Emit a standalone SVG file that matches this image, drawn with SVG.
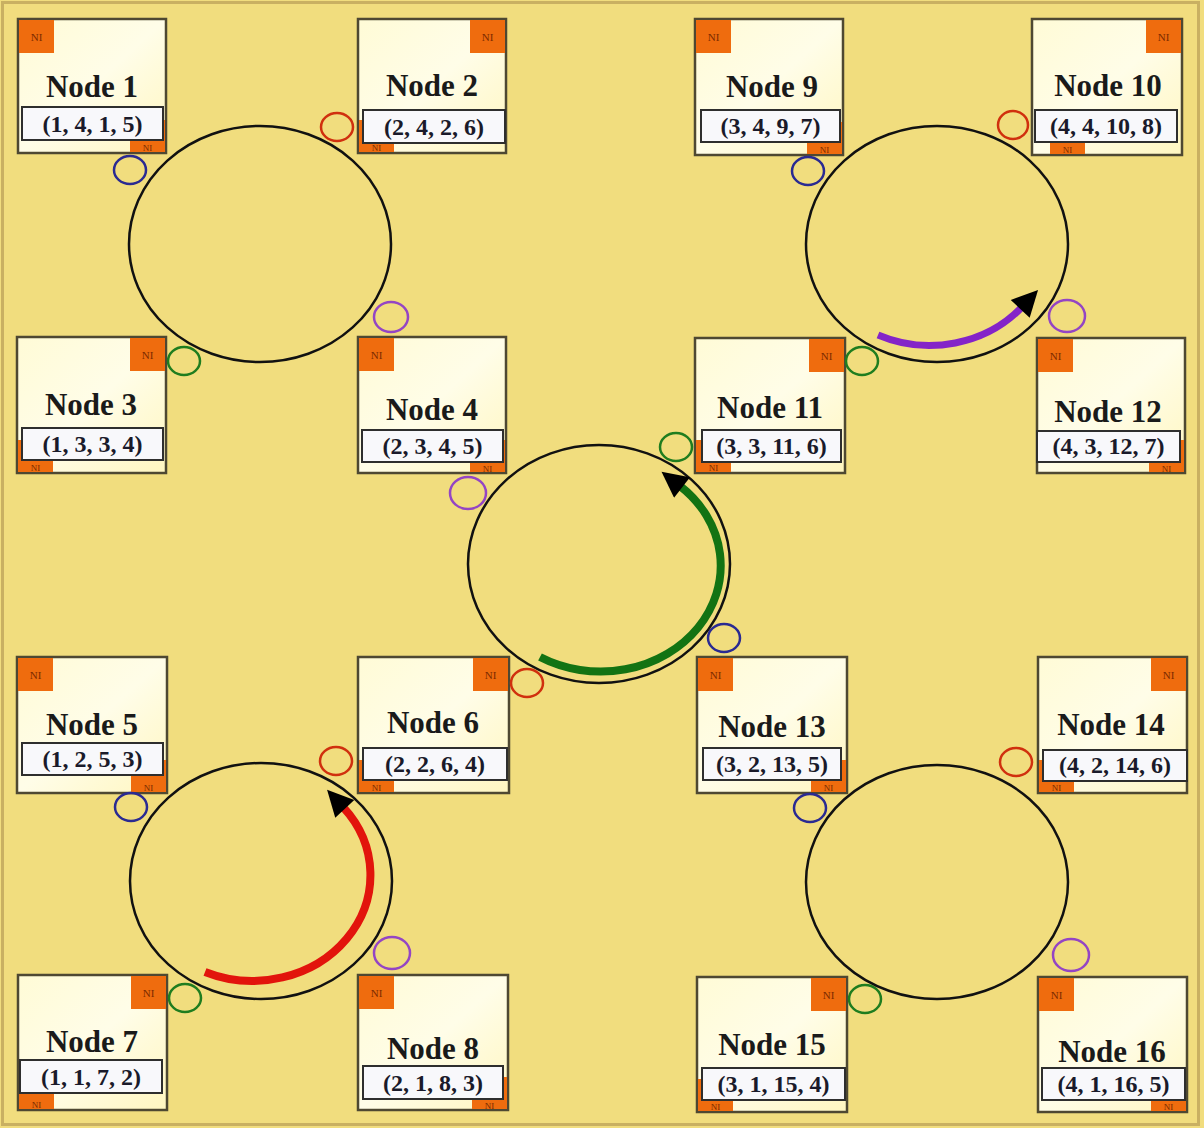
<svg xmlns="http://www.w3.org/2000/svg" width="1204" height="1128" viewBox="0 0 1204 1128">
<defs>
<linearGradient id="nodeFill" x1="0" y1="0" x2="1" y2="1">
<stop offset="0" stop-color="#fffbd6"/>
<stop offset="0.5" stop-color="#fffde8"/>
<stop offset="1" stop-color="#fff6c0"/>
</linearGradient>
<marker id="head" viewBox="0 0 10 10" refX="1" refY="5" markerUnits="userSpaceOnUse" markerWidth="28" markerHeight="26" orient="auto">
<path d="M0,0 L10,5 L0,10 z" fill="#000"/>
</marker>
</defs>
<style>
.box{fill:url(#nodeFill);stroke:#4e4832;stroke-width:2.5}
.ni{fill:#ef6c0e}
.nit{font-family:"Liberation Serif",serif;font-size:11px;fill:#7a2a00;text-anchor:middle}
.nib{font-family:"Liberation Serif",serif;font-size:9px;fill:#7a2a00;text-anchor:middle}
.title{font-family:"Liberation Serif",serif;font-weight:bold;font-size:31px;fill:#1a1a1a;text-anchor:middle}
.lab{fill:#f8f8fb;stroke:#2e2e2e;stroke-width:2}
.labt{font-family:"Liberation Serif",serif;font-weight:bold;font-size:24px;fill:#1a1a2a;text-anchor:middle}
.ring{fill:none;stroke:#111;stroke-width:2.5}
.port{fill:none;stroke-width:2.5}
.pr{stroke:#d0300e}
.pb{stroke:#2a2a92}
.pp{stroke:#9445c4}
.pg{stroke:#1f7d1f}
.arr{fill:none;marker-end:url(#head)}
</style>
<rect x="0" y="0" width="1204" height="1128" fill="#f1dd7e"/>
<rect x="2.5" y="2.5" width="1196" height="1122" fill="none" stroke="#c9b062" stroke-width="3"/>

<g id="connectors">
<ellipse class="ring" cx="260" cy="244" rx="131" ry="118"/>
<ellipse class="ring" cx="937" cy="244" rx="131" ry="118"/>
<ellipse class="ring" cx="599" cy="564" rx="131" ry="119"/>
<ellipse class="ring" cx="261" cy="881" rx="131" ry="118"/>
<ellipse class="ring" cx="937" cy="882" rx="131" ry="117"/>
<path class="arr" d="M878 335 A121 109 0 0 0 1022 307" stroke="#8424c8" stroke-width="7"/>
<path class="arr" d="M540 657 A120 106 0 0 0 680 486" stroke="#137313" stroke-width="8"/>
<path class="arr" d="M205 972 A118 106 0 0 0 343 807" stroke="#e2140c" stroke-width="8"/>
</g>

<g id="node1"><rect class="box" x="18" y="19" width="148" height="134"/><rect class="ni" x="19" y="20" width="35" height="33"/><text class="nit" x="36.5" y="41">NI</text><rect class="ni" x="130" y="120" width="35" height="32"/><text class="nib" x="147.5" y="151">NI</text><text class="title" x="92" y="97">Node 1</text><rect class="lab" x="22" y="107" width="141" height="33"/><text class="labt" x="92.5" y="132">(1, 4, 1, 5)</text></g>
<g id="node2"><rect class="box" x="358" y="19" width="148" height="134"/><rect class="ni" x="470" y="20" width="35" height="33"/><text class="nit" x="487.5" y="41">NI</text><rect class="ni" x="359" y="120" width="35" height="32"/><text class="nib" x="376.5" y="151">NI</text><text class="title" x="432" y="96">Node 2</text><rect class="lab" x="363" y="110" width="142" height="33"/><text class="labt" x="434" y="135">(2, 4, 2, 6)</text></g>
<g id="node3"><rect class="box" x="17" y="337" width="149" height="136"/><rect class="ni" x="130" y="338" width="35" height="33"/><text class="nit" x="147.5" y="359">NI</text><rect class="ni" x="18" y="440" width="35" height="32"/><text class="nib" x="35.5" y="471">NI</text><text class="title" x="91" y="415">Node 3</text><rect class="lab" x="22" y="428" width="141" height="32"/><text class="labt" x="92.5" y="452">(1, 3, 3, 4)</text></g>
<g id="node4"><rect class="box" x="358" y="337" width="148" height="136"/><rect class="ni" x="359" y="338" width="35" height="33"/><text class="nit" x="376.5" y="359">NI</text><rect class="ni" x="470" y="440" width="35" height="32"/><text class="nib" x="487.5" y="471.5">NI</text><text class="title" x="432" y="420">Node 4</text><rect class="lab" x="362" y="430" width="141" height="32"/><text class="labt" x="432.5" y="454">(2, 3, 4, 5)</text></g>
<g id="node5"><rect class="box" x="17" y="657" width="150" height="136"/><rect class="ni" x="18" y="658" width="35" height="33"/><text class="nit" x="35.5" y="679">NI</text><rect class="ni" x="131" y="760" width="35" height="32"/><text class="nib" x="148.5" y="791">NI</text><text class="title" x="92" y="735">Node 5</text><rect class="lab" x="22" y="743" width="141" height="32"/><text class="labt" x="92.5" y="767">(1, 2, 5, 3)</text></g>
<g id="node6"><rect class="box" x="358" y="657" width="151" height="136"/><rect class="ni" x="473" y="658" width="35" height="33"/><text class="nit" x="490.5" y="679">NI</text><rect class="ni" x="359" y="760" width="35" height="32"/><text class="nib" x="376.5" y="791">NI</text><text class="title" x="433" y="733">Node 6</text><rect class="lab" x="363" y="748" width="144" height="32"/><text class="labt" x="435" y="772">(2, 2, 6, 4)</text></g>
<g id="node7"><rect class="box" x="18" y="975" width="149" height="135"/><rect class="ni" x="131" y="976" width="35" height="33"/><text class="nit" x="148.5" y="997">NI</text><rect class="ni" x="19" y="1077" width="35" height="32"/><text class="nib" x="36.5" y="1108">NI</text><text class="title" x="92" y="1052">Node 7</text><rect class="lab" x="20" y="1060" width="142" height="33"/><text class="labt" x="91" y="1085">(1, 1, 7, 2)</text></g>
<g id="node8"><rect class="box" x="358" y="975" width="150" height="135"/><rect class="ni" x="359" y="976" width="35" height="33"/><text class="nit" x="376.5" y="997">NI</text><rect class="ni" x="472" y="1077" width="35" height="32"/><text class="nib" x="489.5" y="1108.5">NI</text><text class="title" x="433" y="1059">Node 8</text><rect class="lab" x="363" y="1066" width="140" height="33"/><text class="labt" x="433" y="1091">(2, 1, 8, 3)</text></g>
<g id="node9"><rect class="box" x="695" y="19" width="148" height="136"/><rect class="ni" x="696" y="20" width="35" height="33"/><text class="nit" x="713.5" y="41">NI</text><rect class="ni" x="807" y="122" width="35" height="32"/><text class="nib" x="824.5" y="153">NI</text><text class="title" x="772" y="97">Node 9</text><rect class="lab" x="701" y="110" width="139" height="32"/><text class="labt" x="770.5" y="134">(3, 4, 9, 7)</text></g>
<g id="node10"><rect class="box" x="1032" y="19" width="150" height="136"/><rect class="ni" x="1146" y="20" width="35" height="33"/><text class="nit" x="1163.5" y="41">NI</text><rect class="ni" x="1050" y="122" width="35" height="32"/><text class="nib" x="1067.5" y="153">NI</text><text class="title" x="1108" y="96">Node 10</text><rect class="lab" x="1035" y="110" width="142" height="32"/><text class="labt" x="1106" y="134">(4, 4, 10, 8)</text></g>
<g id="node11"><rect class="box" x="695" y="338" width="150" height="135"/><rect class="ni" x="809" y="339" width="35" height="33"/><text class="nit" x="826.5" y="360">NI</text><rect class="ni" x="696" y="440" width="35" height="32"/><text class="nib" x="713.5" y="471">NI</text><text class="title" x="770" y="418">Node 11</text><rect class="lab" x="702" y="430" width="139" height="32"/><text class="labt" x="771.5" y="454">(3, 3, 11, 6)</text></g>
<g id="node12"><rect class="box" x="1037" y="338" width="148" height="135"/><rect class="ni" x="1038" y="339" width="35" height="33"/><text class="nit" x="1055.5" y="360">NI</text><rect class="ni" x="1149" y="440" width="35" height="32"/><text class="nib" x="1166.5" y="471.5">NI</text><text class="title" x="1108" y="422">Node 12</text><rect class="lab" x="1037" y="431" width="143" height="31"/><text class="labt" x="1108.5" y="454">(4, 3, 12, 7)</text></g>
<g id="node13"><rect class="box" x="697" y="657" width="150" height="136"/><rect class="ni" x="698" y="658" width="35" height="33"/><text class="nit" x="715.5" y="679">NI</text><rect class="ni" x="811" y="760" width="35" height="32"/><text class="nib" x="828.5" y="791">NI</text><text class="title" x="772" y="737">Node 13</text><rect class="lab" x="703" y="748" width="138" height="32"/><text class="labt" x="772" y="772">(3, 2, 13, 5)</text></g>
<g id="node14"><rect class="box" x="1038" y="657" width="149" height="136"/><rect class="ni" x="1151" y="658" width="35" height="33"/><text class="nit" x="1168.5" y="679">NI</text><rect class="ni" x="1039" y="760" width="35" height="32"/><text class="nib" x="1056.5" y="791">NI</text><text class="title" x="1111" y="735">Node 14</text><rect class="lab" x="1043" y="750" width="144" height="31"/><text class="labt" x="1115" y="773">(4, 2, 14, 6)</text></g>
<g id="node15"><rect class="box" x="697" y="977" width="150" height="135"/><rect class="ni" x="811" y="978" width="35" height="33"/><text class="nit" x="828.5" y="999">NI</text><rect class="ni" x="698" y="1079" width="35" height="32"/><text class="nib" x="715.5" y="1110">NI</text><text class="title" x="772" y="1055">Node 15</text><rect class="lab" x="702" y="1068" width="143" height="32"/><text class="labt" x="773.5" y="1092">(3, 1, 15, 4)</text></g>
<g id="node16"><rect class="box" x="1038" y="977" width="149" height="135"/><rect class="ni" x="1039" y="978" width="35" height="33"/><text class="nit" x="1056.5" y="999">NI</text><rect class="ni" x="1151" y="1079" width="35" height="32"/><text class="nib" x="1168.5" y="1110">NI</text><text class="title" x="1112" y="1062">Node 16</text><rect class="lab" x="1042" y="1068" width="143" height="32"/><text class="labt" x="1113.5" y="1092">(4, 1, 16, 5)</text></g>

<g id="ports">
<ellipse class="port pb" cx="130" cy="170" rx="16" ry="14"/>
<ellipse class="port pr" cx="337" cy="127" rx="16" ry="14"/>
<ellipse class="port pp" cx="391" cy="317" rx="17" ry="15"/>
<ellipse class="port pg" cx="184" cy="361" rx="16" ry="14"/>
<ellipse class="port pb" cx="808" cy="171" rx="16" ry="14"/>
<ellipse class="port pr" cx="1013" cy="125" rx="15" ry="14"/>
<ellipse class="port pp" cx="1067" cy="316" rx="18" ry="16"/>
<ellipse class="port pg" cx="862" cy="361" rx="16" ry="14"/>
<ellipse class="port pp" cx="468" cy="493" rx="18" ry="16"/>
<ellipse class="port pg" cx="676" cy="447" rx="16" ry="14"/>
<ellipse class="port pb" cx="724" cy="638" rx="16" ry="14"/>
<ellipse class="port pr" cx="527" cy="683" rx="16" ry="14"/>
<ellipse class="port pr" cx="336" cy="761" rx="16" ry="14"/>
<ellipse class="port pb" cx="131" cy="807" rx="16" ry="14"/>
<ellipse class="port pp" cx="392" cy="953" rx="18" ry="16"/>
<ellipse class="port pg" cx="185" cy="998" rx="16" ry="14"/>
<ellipse class="port pb" cx="810" cy="808" rx="16" ry="14"/>
<ellipse class="port pr" cx="1016" cy="762" rx="16" ry="14"/>
<ellipse class="port pp" cx="1071" cy="955" rx="18" ry="16"/>
<ellipse class="port pg" cx="865" cy="999" rx="16" ry="14"/>
</g>
</svg>
